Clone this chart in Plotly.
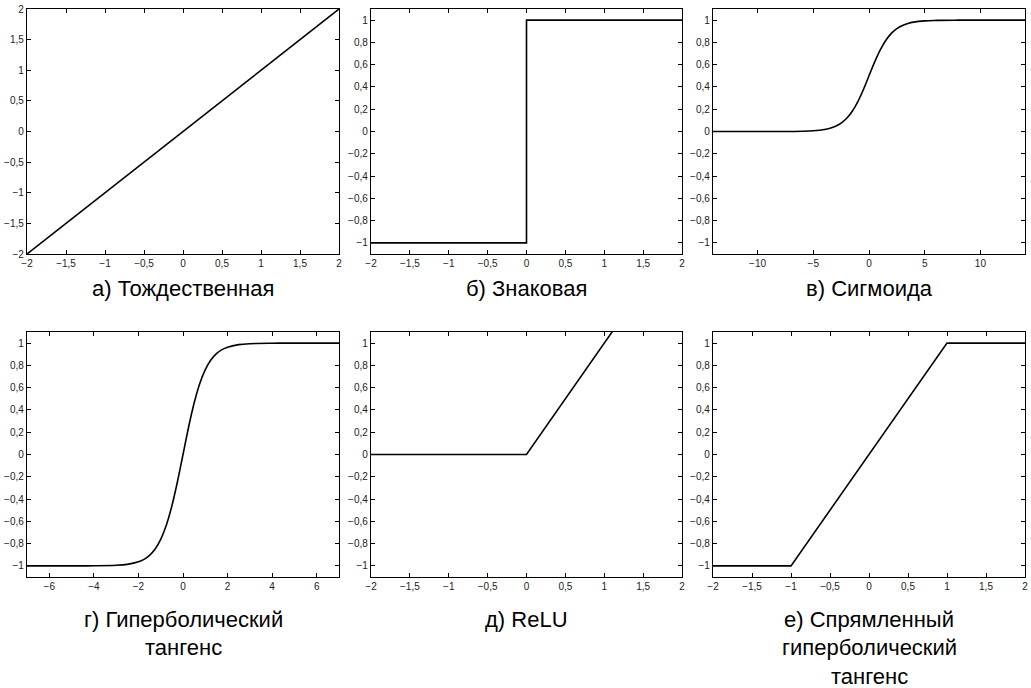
import plotly.graph_objects as go

W, H = 1031, 688

# ---- data ----
identity_x = [-2, 2]
identity_y = [-2, 2]

sign_x = [-2, 0, 0, 2]
sign_y = [-1, -1, 1, 1]

sigmoid_x = [-14, -10, -8, -6, -5, -4, -3.5, -3, -2.5, -2, -1.5, -1, -0.5, 0,
             0.5, 1, 1.5, 2, 2.5, 3, 3.5, 4, 5, 6, 8, 10, 14]
sigmoid_y = [0.0, 0.0, 0.0003, 0.0025, 0.0067, 0.0180, 0.0293, 0.0474, 0.0759, 0.1192,
             0.1824, 0.2689, 0.3775, 0.5, 0.6225, 0.7311, 0.8176, 0.8808, 0.9241,
             0.9526, 0.9707, 0.9820, 0.9933, 0.9975, 0.9997, 1.0, 1.0]

tanh_x = [-7, -5, -4, -3, -2.5, -2, -1.75, -1.5, -1.25, -1, -0.75, -0.5, -0.25, 0,
          0.25, 0.5, 0.75, 1, 1.25, 1.5, 1.75, 2, 2.5, 3, 4, 5, 7]
tanh_y = [-1.0, -0.9999, -0.9993, -0.9951, -0.9866, -0.9640, -0.9414, -0.9051, -0.8483,
          -0.7616, -0.6351, -0.4621, -0.2449, 0.0, 0.2449, 0.4621, 0.6351, 0.7616,
          0.8483, 0.9051, 0.9414, 0.9640, 0.9866, 0.9951, 0.9993, 0.9999, 1.0]

relu_x = [-2, 0, 2]
relu_y = [0, 0, 2]

hardtanh_x = [-2, -1, 1, 2]
hardtanh_y = [-1, -1, 1, 1]

captions = [
    ["а) Тождественная"],
    ["б) Знаковая"],
    ["в) Сигмоида"],
    ["г) Гиперболический", "тангенс"],
    ["д) ReLU"],
    ["е) Спрямленный", "гиперболический", "тангенс"],
]

ticks_2 = [-2, -1.5, -1, -0.5, 0, 0.5, 1, 1.5, 2]
ticks_1 = [-1, -0.8, -0.6, -0.4, -0.2, 0, 0.2, 0.4, 0.6, 0.8, 1]
ticks_14 = [-10, -5, 0, 5, 10]
ticks_7 = [-6, -4, -2, 0, 2, 4, 6]


def fmt(v):
    s = ("%g" % v).replace(".", ",")
    return s.replace("-", "\u2212")


series = [
    (identity_x, identity_y, [-2, 2], ticks_2, [-2, 2], ticks_2, "linear"),
    (sign_x, sign_y, [-2, 2], ticks_2, [-1.1, 1.1], ticks_1, "linear"),
    (sigmoid_x, sigmoid_y, [-14, 14], ticks_14, [-1.1, 1.1], ticks_1, "spline"),
    (tanh_x, tanh_y, [-7, 7], ticks_7, [-1.1, 1.1], ticks_1, "spline"),
    (relu_x, relu_y, [-2, 2], ticks_2, [-1.1, 1.1], ticks_1, "linear"),
    (hardtanh_x, hardtanh_y, [-2, 2], ticks_2, [-1.1, 1.1], ticks_1, "linear"),
]

# panel pixel boxes (left, right) and (top, bottom)
cols = [(27, 339), (371, 682), (713, 1025)]
rows = [(9, 254), (332, 577)]
caption_y0 = [288, 619]
line_gap = 28.5


def px(v):
    return v / W


def py(v):
    return 1 - v / H


fig = go.Figure()
layout = dict(
    width=W, height=H,
    margin=dict(l=0, r=0, t=0, b=0, autoexpand=False),
    paper_bgcolor="white", plot_bgcolor="white",
    showlegend=False,
    font=dict(family="Liberation Sans, Arial, sans-serif", color="black"),
)
annotations = []

for i, (xs, ys, xr, xt, yr, yt, shape) in enumerate(series):
    r, c = divmod(i, 3)
    n = "" if i == 0 else str(i + 1)
    xl, xrp = cols[c]
    yt0, yb0 = rows[r]
    fig.add_trace(go.Scatter(
        x=xs, y=ys, mode="lines",
        line=dict(color="black", width=1.6, shape=shape, smoothing=1.0),
        xaxis="x" + n, yaxis="y" + n, hoverinfo="skip",
    ))
    axis_common = dict(
        showgrid=False, zeroline=False, showline=True, linecolor="black",
        linewidth=1.2, mirror="ticks", ticks="inside", ticklen=4,
        tickcolor="black", tickwidth=1, automargin=False,
        tickfont=dict(family="Liberation Sans Narrow, Liberation Sans, sans-serif",
                      size=10, color="#222"),
    )
    layout["xaxis" + n] = dict(
        axis_common, range=xr, tickvals=xt, ticktext=[fmt(v) for v in xt],
        domain=[px(xl), px(xrp)], anchor="y" + n,
    )
    layout["yaxis" + n] = dict(
        axis_common, range=yr, tickvals=yt, ticktext=[fmt(v) for v in yt],
        domain=[py(yb0), py(yt0)], anchor="x" + n,
    )
    cx = (xl + xrp) / 2
    for k, line in enumerate(captions[i]):
        yy = caption_y0[r] + k * line_gap
        annotations.append(dict(
            text=line, x=px(cx), y=py(yy), xref="paper", yref="paper",
            xanchor="center", yanchor="middle", showarrow=False,
            font=dict(size=22, color="black"),
        ))

layout["annotations"] = annotations
fig.update_layout(**layout)
fig.write_html(
    "out.html",
    config={"displayModeBar": False, "staticPlot": True},
    post_script="document.body.style.margin='0';document.body.style.overflow='hidden';",
)
